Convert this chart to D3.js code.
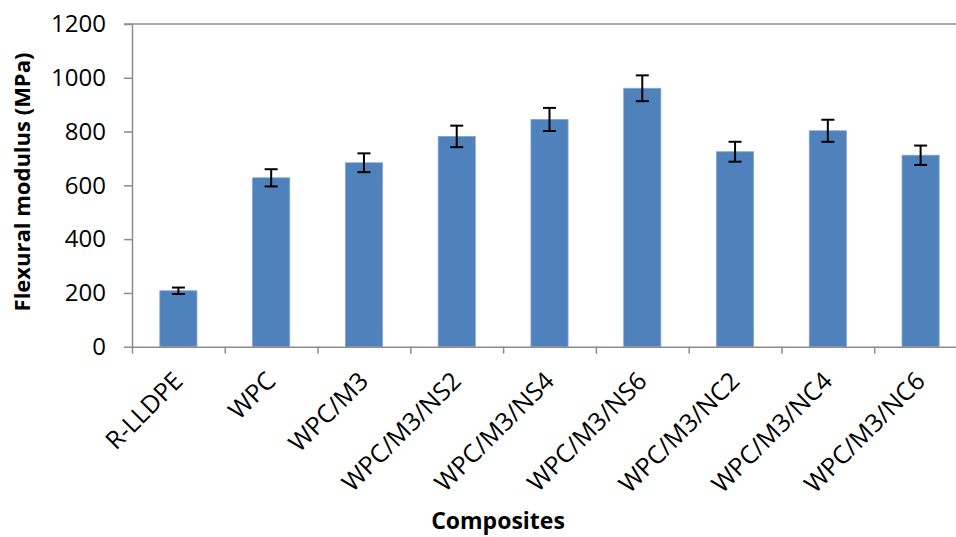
<!DOCTYPE html>
<html>
<head>
<meta charset="utf-8">
<script src="https://cdn.jsdelivr.net/npm/d3@7"></script>
<style>
  body { margin: 0; background: #fff; }
  svg text { font-family: "Open Sans", "DejaVu Sans", sans-serif; fill: #000; }
</style>
</head>
<body>
<svg id="chart" width="956" height="537"></svg>
<script>
// values
var categories = ["R-LLDPE", "WPC", "WPC/M3", "WPC/M3/NS2", "WPC/M3/NS4",
                  "WPC/M3/NS6", "WPC/M3/NC2", "WPC/M3/NC4", "WPC/M3/NC6"];
var modulus = [208, 628, 684, 782, 845, 961, 725, 803, 712];
var errors = [12, 32, 35, 40, 43, 48, 37, 41, 36];
var yTicks = [0, 200, 400, 600, 800, 1000, 1200];

(function () {
    var svg = d3.select("svg#chart");
    var left = 132, right = 967, top = 24, bottom = 346.7;
    var axisColor = "#8c8c8c";

    var x = d3.scaleBand().domain(categories).range([left, right])
        .paddingInner(0.6).paddingOuter(0.3);
    var xb = d3.scaleLinear().domain([0, categories.length]).range([left, right]);
    var y = d3.scaleLinear().domain([0, 1200]).range([bottom, top]);

    // top line at 1200
    svg.append("line")
        .attr("x1", left - 8).attr("x2", right)
        .attr("y1", y(1200)).attr("y2", y(1200))
        .attr("stroke", axisColor).attr("stroke-width", 1.5);

    // y axis
    var gy = svg.append("g").attr("transform", "translate(" + left + ",0)")
        .call(d3.axisLeft(y).tickValues(yTicks).tickFormat(d3.format("d"))
              .tickSize(8).tickSizeOuter(0).tickPadding(18));
    gy.selectAll("path, line").attr("stroke", axisColor).attr("stroke-width", 1.5);
    gy.selectAll("text").style("font-size", "24px");

    // bars
    svg.append("g").selectAll("rect").data(categories).join("rect")
        .attr("x", d => x(d)).attr("width", x.bandwidth())
        .attr("y", (d, i) => y(modulus[i]))
        .attr("height", (d, i) => bottom - y(modulus[i]))
        .attr("fill", "#4f81bd")
        .attr("stroke", "#7ea4d3").attr("stroke-width", 0.8);

    // error bars
    var eb = svg.append("g").attr("stroke", "#000").attr("stroke-width", 2);
    categories.forEach(function (c, i) {
        var cx = x(c) + x.bandwidth() / 2;
        var hi = y(modulus[i] + errors[i]), lo = y(modulus[i] - errors[i]);
        eb.append("line").attr("x1", cx).attr("x2", cx).attr("y1", hi).attr("y2", lo);
        eb.append("line").attr("x1", cx - 6.5).attr("x2", cx + 6.5).attr("y1", hi).attr("y2", hi);
        eb.append("line").attr("x1", cx - 6.5).attr("x2", cx + 6.5).attr("y1", lo).attr("y2", lo);
    });

    // x axis with boundary ticks
    var gx = svg.append("g").attr("transform", "translate(0," + bottom + ")")
        .call(d3.axisBottom(xb).tickValues(d3.range(categories.length + 1))
              .tickFormat("").tickSize(7).tickSizeOuter(0));
    gx.selectAll("path, line").attr("stroke", axisColor).attr("stroke-width", 1.5);

    // rotated category labels
    svg.append("g").selectAll("text").data(categories).join("text")
        .attr("transform", d => "translate(" + (x(d) + x.bandwidth() / 2 + 6) + "," + (bottom + 36) + ") rotate(-45)")
        .attr("text-anchor", "end")
        .style("font-size", "25px")
        .text(d => d);

    // axis titles
    svg.append("text")
        .attr("transform", "translate(30,182) rotate(-90)")
        .attr("text-anchor", "middle")
        .style("font-size", "22px").style("font-weight", "bold")
        .text("Flexural modulus (MPa)");

    svg.append("text")
        .attr("x", 498).attr("y", 529)
        .attr("text-anchor", "middle")
        .style("font-size", "23px").style("font-weight", "bold")
        .text("Composites");
})();
</script>
</body>
</html>
